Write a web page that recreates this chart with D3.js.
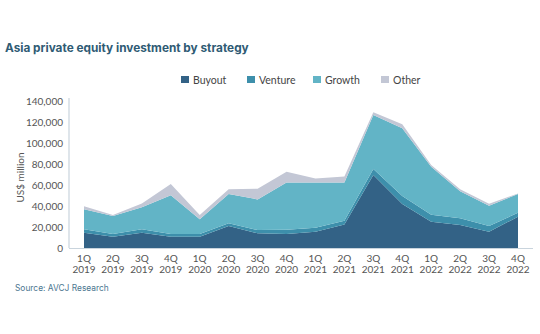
<!DOCTYPE html>
<html>
<head>
<meta charset="utf-8">
<script src="https://cdn.jsdelivr.net/npm/d3@7"></script>
<style>
  body { margin: 0; background: #fff; }
  svg { display: block; }
</style>
</head>
<body>
<div id="chart"></div>
<script>
// quarters along the x axis
var quarters = ["1Q 2019", "2Q 2019", "3Q 2019", "4Q 2019", "1Q 2020", "2Q 2020", "3Q 2020", "4Q 2020",
                "1Q 2021", "2Q 2021", "3Q 2021", "4Q 2021", "1Q 2022", "2Q 2022", "3Q 2022", "4Q 2022"];

// US$ million
var buyout  = [14600, 10800, 14600, 10800, 10800, 21000, 14000, 13300, 15500, 22500, 69500, 41900, 25000, 21900, 15500, 29800];
var venture = [3200, 2500, 3200, 2500, 2500, 2500, 3100, 4200, 3900, 3500, 5700, 7600, 6700, 6400, 5500, 3800];
var growth  = [19200, 17200, 20900, 36900, 14000, 27900, 29200, 45000, 43100, 36500, 51500, 64500, 45800, 25700, 19300, 17800];
var other   = [2700, 900, 3800, 10800, 4100, 4500, 10200, 10200, 3800, 5700, 2500, 3800, 1500, 1900, 1900, 500];

var seriesNames = ["Buyout", "Venture", "Growth", "Other"];
var colors = ["#336286", "#3d8fab", "#62b4c6", "#c3c7d5"];
var yTicks = [0, 20000, 40000, 60000, 80000, 100000, 120000, 140000];

var width = 540, height = 334;
var svg = d3.select("#chart").append("svg")
    .attr("width", width)
    .attr("height", height);

var rows = quarters.map(function(q, i) {
  return {q: q, Buyout: buyout[i], Venture: venture[i], Growth: growth[i], Other: other[i]};
});
var stacked = d3.stack().keys(seriesNames)(rows);

var xScale = d3.scalePoint()
  .domain(quarters)
  .range([84, 518]);

var yScale = d3.scaleLinear()
  .domain([0, 140000])
  .range([248, 101]);

// title
svg.append("text")
  .attr("x", 5)
  .attr("y", 52)
  .text("Asia private equity investment by strategy")
  .style("fill", "#2f5b74")
  .style("font-size", "11.8px")
  .style("font-weight", "700")
  .style("font-family", "Inter, 'Open Sans', sans-serif");

// legend
var legendX = [181, 247, 313, 381];
var legend = svg.selectAll(".legend")
  .data(seriesNames)
 .enter()
  .append("g")
  .attr("class", "legend")
  .attr("transform", function(d, i) { return "translate(" + legendX[i] + ",80)"; });
legend.append("rect")
  .attr("x", 0).attr("y", -4)
  .attr("width", 8).attr("height", 7)
  .style("fill", function(d, i) { return colors[i]; });
legend.append("text")
  .attr("x", 12).attr("y", 4)
  .text(function(d) { return d; })
  .style("fill", "#444")
  .style("font-size", "10.5px")
  .style("font-family", "Lato, sans-serif");

// areas
var area = d3.area()
  .x(function(d) { return xScale(d.data.q); })
  .y0(function(d) { return yScale(d[0]); })
  .y1(function(d) { return yScale(d[1]); });

svg.selectAll(".area")
  .data(stacked)
 .enter()
  .append("path")
  .attr("class", "area")
  .attr("d", area)
  .style("fill", function(d, i) { return colors[i]; });

// axes
var yAxis = d3.axisLeft(yScale)
  .tickValues(yTicks)
  .tickSize(0)
  .tickPadding(6)
  .tickFormat(d3.format(","));

svg.append("g")
  .attr("class", "y axis")
  .attr("transform", "translate(69,0)")
  .call(yAxis);

svg.select(".y.axis path").remove();
svg.append("line")
  .attr("x1", 69).attr("x2", 69)
  .attr("y1", 98).attr("y2", 248)
  .style("stroke", "#c9d4dd")
  .style("stroke-width", 1.2);
svg.append("line")
  .attr("x1", 69).attr("x2", 533)
  .attr("y1", 248.5).attr("y2", 248.5)
  .style("stroke", "#c9d4dd")
  .style("stroke-width", 1.2);

svg.select(".y.axis")
  .selectAll("text")
  .style("fill", "#555")
  .style("font-size", "10px")
  .style("font-family", "Lato, sans-serif");

var xLabels = svg.selectAll(".xlabel")
  .data(quarters)
 .enter()
  .append("text")
  .attr("class", "xlabel")
  .attr("text-anchor", "middle")
  .attr("x", function(d) { return xScale(d); })
  .attr("y", 262)
  .style("fill", "#555")
  .style("font-size", "10px")
  .style("font-family", "Lato, sans-serif");
xLabels.append("tspan")
  .attr("x", function(d) { return xScale(d); })
  .text(function(d) { return d.split(" ")[0]; });
xLabels.append("tspan")
  .attr("x", function(d) { return xScale(d); })
  .attr("dy", 10.5)
  .text(function(d) { return d.split(" ")[1]; });

// y axis title
svg.append("text")
  .attr("text-anchor", "middle")
  .attr("transform", "rotate(-90)")
  .attr("x", -(yScale(140000) + yScale(0)) / 2 - 3)
  .attr("y", 24)
  .text("US$ million")
  .style("fill", "#555")
  .style("font-size", "10px")
  .style("font-family", "Lato, sans-serif");

// source
svg.append("text")
  .attr("x", 15)
  .attr("y", 291)
  .text("Source: AVCJ Research")
  .style("fill", "#4b7690")
  .style("font-size", "8.4px")
  .style("font-family", "Inter, sans-serif");
</script>
</body>
</html>
